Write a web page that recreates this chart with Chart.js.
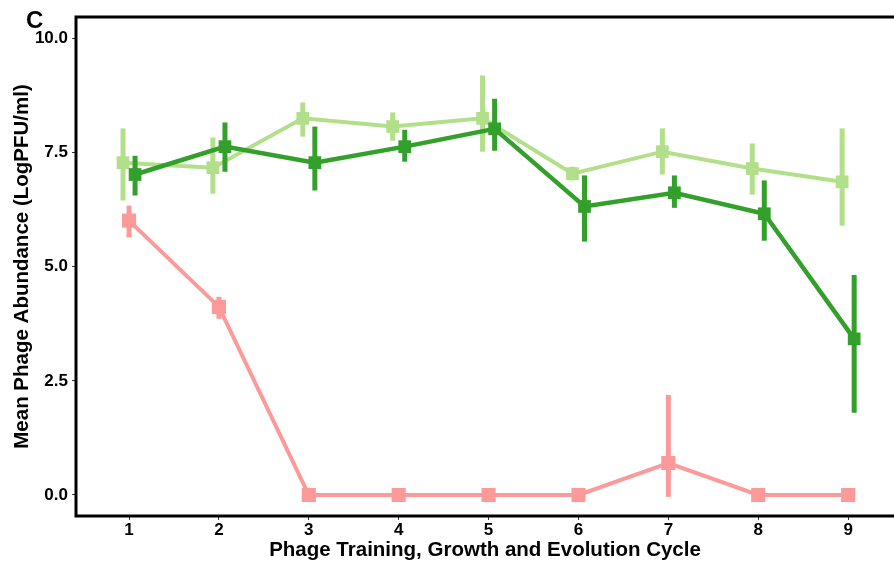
<!DOCTYPE html>
<html>
<head>
<meta charset="utf-8">
<script src="https://cdn.jsdelivr.net/npm/chart.js@4"></script>
<style>
  html, body { margin: 0; padding: 0; background: #ffffff; }
  #wrap { width: 894px; height: 570px; position: relative; }
</style>
</head>
<body>
<div id="wrap"><canvas id="c" width="894" height="570"></canvas></div>
<script>
// ---- data ----
const cycles = [1, 2, 3, 4, 5, 6, 7, 8, 9];
const yTicks = [0, 2.5, 5, 7.5, 10];

const lightGreen     = [7.28, 7.17, 8.25, 8.07, 8.25, 7.04, 7.52, 7.15, 6.86];
const lightGreenLow  = [6.45, 6.60, 7.85, 7.76, 7.52, 6.89, 7.02, 6.58, 5.90];
const lightGreenHigh = [8.03, 7.83, 8.60, 8.38, 9.19, 7.19, 8.03, 7.70, 8.03];

const darkGreen      = [7.02, 7.63, 7.28, 7.63, 8.02, 6.32, 6.62, 6.16, 3.42];
const darkGreenLow   = [6.56, 7.08, 6.67, 7.30, 7.54, 5.55, 6.29, 5.57, 1.80];
const darkGreenHigh  = [7.43, 8.16, 8.07, 8.00, 8.68, 7.00, 7.00, 6.89, 4.82];

const pink           = [6.01, 4.12, 0, 0, 0, 0, 0.70, 0, 0];
const pinkLow        = [5.64, 3.86, 0, 0, 0, 0, -0.04, 0, 0];
const pinkHigh       = [6.34, 4.34, 0, 0, 0, 0, 2.19, 0, 0];

const axisTitleX = 'Phage Training, Growth and Evolution Cycle';
const axisTitleY = 'Mean Phage Abundance (LogPFU/ml)';
const panelTag = 'C';

// ---- build datasets ----
function series(values, low, high, dodge, color, radius, lw) {
  return {
    data: values.map((v, i) => ({ x: cycles[i] + dodge, y: v })),
    errLow: low, errHigh: high,
    borderColor: color, backgroundColor: color,
    pointBackgroundColor: color, pointBorderColor: color,
    pointStyle: 'rect', pointRadius: radius, pointHoverRadius: radius,
    pointBorderWidth: 0,
    borderWidth: lw, tension: 0, fill: false
  };
}

const datasets = [
  series(darkGreen, darkGreenLow, darkGreenHigh, 0.067, '#33a02c', 9, 4.5),
  series(lightGreen, lightGreenLow, lightGreenHigh, -0.067, '#b2df8a', 9, 4),
  series(pink, pinkLow, pinkHigh, 0, '#fb9a99', 10, 4)
];

const errorBars = {
  id: 'errorBars',
  afterDatasetDraw(chart, args) {
    const ds = chart.data.datasets[args.index];
    const meta = args.meta;
    const ys = chart.scales.y;
    const ctx = chart.ctx;
    ctx.save();
    ctx.beginPath();
    ctx.rect(chart.chartArea.left, chart.chartArea.top,
             chart.chartArea.right - chart.chartArea.left,
             chart.chartArea.bottom - chart.chartArea.top);
    ctx.clip();
    ctx.strokeStyle = ds.borderColor;
    ctx.lineWidth = 5;
    ctx.lineCap = 'butt';
    meta.data.forEach((pt, i) => {
      const lo = ds.errLow[i], hi = ds.errHigh[i];
      if (hi === lo) return;
      ctx.beginPath();
      ctx.moveTo(pt.x, ys.getPixelForValue(lo));
      ctx.lineTo(pt.x, ys.getPixelForValue(hi));
      ctx.stroke();
    });
    ctx.restore();
  }
};

const frame = {
  id: 'frame',
  afterDraw(chart) {
    const { left, top, bottom } = chart.chartArea;
    const ctx = chart.ctx;
    ctx.save();
    ctx.strokeStyle = '#000';
    ctx.lineWidth = 3;
    ctx.beginPath();
    ctx.moveTo(chart.width + 2, top);
    ctx.lineTo(left, top);
    ctx.lineTo(left, bottom);
    ctx.lineTo(chart.width + 2, bottom);
    ctx.stroke();
    ctx.fillStyle = '#000';
    ctx.font = 'bold 24px "Liberation Sans", Arial, sans-serif';
    ctx.textBaseline = 'alphabetic';
    ctx.textAlign = 'left';
    ctx.fillText(panelTag, 26, 28);
    ctx.restore();
  }
};

const tickFont = { family: '"Liberation Sans", Arial, sans-serif', size: 17, weight: 'bold' };
const titleFont = { family: '"Liberation Sans", Arial, sans-serif', size: 20.5, weight: 'bold' };

new Chart(document.getElementById('c'), {
  type: 'line',
  data: { datasets },
  options: {
    responsive: false,
    animation: false,
    events: [],
    layout: { autoPadding: false, padding: { top: 17, left: 0, right: 0, bottom: 0 } },
    plugins: { legend: { display: false }, tooltip: { enabled: false } },
    scales: {
      x: {
        type: 'linear',
        min: 0.41, max: 9.51,
        afterFit(s) { s.height = 54; },
        afterBuildTicks(s) { s.ticks = cycles.map(v => ({ value: v })); },
        ticks: { font: tickFont, color: '#000', padding: 0,
                 callback: v => String(v), maxRotation: 0, autoSkip: false },
        grid: { drawOnChartArea: false, drawTicks: true, tickLength: 4, color: '#333', lineWidth: 1 },
        border: { display: false },
        title: { display: true, text: axisTitleX, font: titleFont, color: '#000',
                 padding: { top: 0, bottom: 7 } }
      },
      y: {
        type: 'linear',
        min: -0.46, max: 10.47,
        afterFit(s) { s.width = 76; },
        afterBuildTicks(s) { s.ticks = yTicks.map(v => ({ value: v })); },
        ticks: { font: tickFont, color: '#000', padding: 4,
                 callback: v => Number(v).toFixed(1) },
        grid: { drawOnChartArea: false, drawTicks: true, tickLength: 4, color: '#333', lineWidth: 1 },
        border: { display: false },
        title: { display: true, text: axisTitleY, font: titleFont, color: '#000',
                 padding: { top: 10, bottom: 0 } }
      }
    }
  },
  plugins: [errorBars, frame]
});
</script>
</body>
</html>
